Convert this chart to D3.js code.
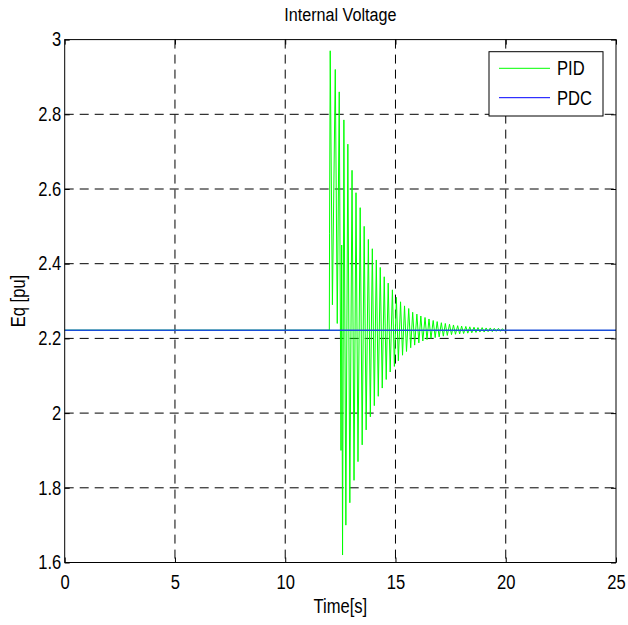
<!DOCTYPE html>
<html>
<head>
<meta charset="utf-8">
<script src="https://cdn.jsdelivr.net/npm/d3@7"></script>
<style>
  body { margin: 0; background: #fff; }
  svg text { font-family: "Liberation Sans", Arial, sans-serif; fill: #000; }
</style>
</head>
<body>
<svg id="chart" width="628" height="625"></svg>
<script>
// tick values
let xTicks = [0, 5, 10, 15, 20, 25];
let yTicks = [1.6, 1.8, 2, 2.2, 2.4, 2.6, 2.8, 3];

// PDC: flat line over the whole run
let pdcTime = [0, 25];
let pdcValue = [2.222, 2.222];

// PID: extrema (time in s, Eq in pu)
let pidTime = [
    0, 12.0, 12.01, 12.04, 12.14, 12.27, 12.36, 12.45, 12.53, 12.56,
    12.60, 12.66, 12.75, 12.84, 12.93, 13.03, 13.12, 13.21, 13.30, 13.40,
    13.49, 13.58, 13.67, 13.77, 13.86, 13.95, 14.04, 14.13, 14.22, 14.31,
    14.40, 14.49, 14.58, 14.67, 14.76, 14.86, 14.95, 15.04, 15.13, 15.23,
    15.32, 15.41, 15.50, 15.60, 15.69, 15.78, 15.87, 15.97, 16.06, 16.15,
    16.24, 16.34, 16.43, 16.52, 16.61, 16.71, 16.80, 16.89, 16.98, 17.08,
    17.17, 17.26, 17.35, 17.45, 17.54, 17.63, 17.72, 17.82, 17.91, 18.00,
    18.09, 18.19, 18.28, 18.37, 18.46, 18.56, 18.65, 18.74, 18.83, 18.93,
    19.02, 19.11, 19.20, 19.30, 19.39, 19.48, 19.57, 19.67, 19.76, 19.85,
    19.94, 20.0
];
let pidValue = [
    2.222, 2.222, 2.48, 2.97, 2.29, 2.92, 2.24, 2.86, 1.90, 2.45,
    1.62, 2.785, 1.70, 2.72, 1.76, 2.65, 1.82, 2.59, 1.87, 2.55,
    1.915, 2.50, 1.955, 2.465, 1.99, 2.44, 2.02, 2.41, 2.045, 2.39,
    2.067, 2.365, 2.09, 2.348, 2.11, 2.33, 2.125, 2.31, 2.14, 2.298,
    2.155, 2.287, 2.165, 2.28, 2.175, 2.27, 2.182, 2.265, 2.188, 2.26,
    2.193, 2.256, 2.197, 2.252, 2.20, 2.248, 2.202, 2.245, 2.204, 2.242,
    2.206, 2.240, 2.208, 2.238, 2.210, 2.236, 2.211, 2.234, 2.212, 2.233,
    2.213, 2.232, 2.214, 2.231, 2.215, 2.230, 2.216, 2.229, 2.217, 2.229,
    2.217, 2.228, 2.218, 2.228, 2.218, 2.227, 2.219, 2.227, 2.219, 2.226,
    2.220, 2.222
];

let seriesNames = ["PID", "PDC"];
let seriesColors = ["#00ff00", "#0000ff"];

let svg = d3.select("#chart");
let plotLeft = 64.7, plotRight = 616, plotTop = 39.6, plotBottom = 562.5;

let xScale = d3.scaleLinear().domain([0, 25]).range([plotLeft, plotRight]);
let yScale = d3.scaleLinear().domain([1.6, 3]).range([plotBottom, plotTop]);

// grid
let grid = svg.append("g");
grid.selectAll("line.gx").data(xTicks.slice(1, -1)).enter().append("line")
    .attr("x1", d => xScale(d)).attr("x2", d => xScale(d))
    .attr("y1", plotTop).attr("y2", plotBottom)
    .attr("stroke", "#000").attr("stroke-dasharray", "9,6");
grid.selectAll("line.gy").data(yTicks.slice(1, -1)).enter().append("line")
    .attr("y1", d => yScale(d)).attr("y2", d => yScale(d))
    .attr("x1", plotLeft).attr("x2", plotRight)
    .attr("stroke", "#000").attr("stroke-dasharray", "9,6");

// lines
let pid = pidTime.map((t, i) => [t, pidValue[i]]);
let pdc = pdcTime.map((t, i) => [t, pdcValue[i]]);
let line = d3.line().x(d => xScale(d[0])).y(d => yScale(d[1]));

svg.append("path").datum(pid).attr("d", line)
    .attr("fill", "none").attr("stroke", seriesColors[0]).attr("stroke-width", 1);
svg.append("path").datum(pdc).attr("d", line)
    .attr("fill", "none").attr("stroke", "#1a4fd8").attr("stroke-width", 1.6);

// axes, ticks pointing inward
let fontSize = 19.5;
let xAxis = d3.axisBottom(xScale).tickValues(xTicks).tickFormat(d3.format("d"))
    .tickSizeInner(-5).tickSizeOuter(0).tickPadding(12.5);
svg.append("g").attr("transform", "translate(0," + plotBottom + ")").call(xAxis);
let yAxis = d3.axisLeft(yScale).tickValues(yTicks).tickFormat(d => String(+d.toFixed(1)))
    .tickSizeInner(-5).tickSizeOuter(0).tickPadding(3.5);
svg.append("g").attr("transform", "translate(" + plotLeft + ",0)").call(yAxis);

// mirrored ticks on top and right
svg.append("g").attr("transform", "translate(0," + plotTop + ")")
    .call(d3.axisTop(xScale).tickValues(xTicks).tickSizeInner(-5).tickSizeOuter(0).tickFormat(""));
svg.append("g").attr("transform", "translate(" + plotRight + ",0)")
    .call(d3.axisRight(yScale).tickValues(yTicks).tickSizeInner(-5).tickSizeOuter(0).tickFormat(""));

svg.selectAll(".domain").remove();
svg.selectAll(".tick line").attr("stroke", "#000");
svg.selectAll(".tick text").attr("font-size", fontSize).attr("font-family", null);

// box
svg.append("rect").attr("x", plotLeft).attr("y", plotTop)
    .attr("width", plotRight - plotLeft).attr("height", plotBottom - plotTop)
    .attr("fill", "none").attr("stroke", "#000");

// labels
svg.append("text").attr("x", (plotLeft + plotRight) / 2).attr("y", 21)
    .attr("text-anchor", "middle").attr("font-size", 19).text("Internal Voltage");
svg.append("text").attr("x", (plotLeft + plotRight) / 2).attr("y", 613)
    .attr("text-anchor", "middle").attr("font-size", fontSize).text("Time[s]");
svg.append("text").attr("transform", "translate(25," + (plotTop + plotBottom) / 2 + ") rotate(-90)")
    .attr("text-anchor", "middle").attr("font-size", fontSize).text("Eq [pu]");

// legend
let legend = svg.append("g").attr("transform", "translate(489,51.7)");
legend.append("rect").attr("width", 114).attr("height", 64.3)
    .attr("fill", "#fff").attr("stroke", "#000");
let entries = legend.selectAll("g.entry").data(seriesNames).enter().append("g")
    .attr("transform", (d, i) => "translate(0," + (16.6 + i * 29.4) + ")");
entries.append("line").attr("x1", 10).attr("x2", 61).attr("y1", 0).attr("y2", 0)
    .attr("stroke", (d, i) => seriesColors[i]);
entries.append("text").attr("x", 68).attr("y", 7).attr("font-size", fontSize).text(d => d);

// the original uses a narrow face: squeeze all text horizontally
svg.selectAll("text").each(function () {
    let t = d3.select(this);
    let x = +t.attr("x") || 0, y = +t.attr("y") || 0;
    let tr = t.attr("transform") || "";
    t.attr("x", 0).attr("y", 0)
        .attr("transform", tr + " translate(" + x + "," + y + ") scale(0.85,1)");
});
</script>
</body>
</html>
